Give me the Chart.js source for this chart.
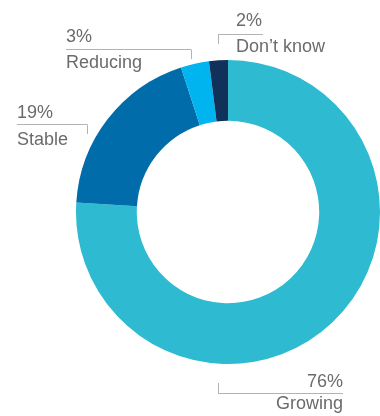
<!DOCTYPE html>
<html>
<head>
<meta charset="utf-8">
<script src="https://cdn.jsdelivr.net/npm/chart.js@4"></script>
<style>
  html, body { margin: 0; padding: 0; background: #fff; }
  #wrap { width: 380px; height: 416px; position: relative; }
</style>
</head>
<body>
<div id="wrap"><canvas id="outlook"></canvas></div>
<script>
const labels = ["Growing", "Stable", "Reducing", "Don\u2019t know"];
const shares = [76, 19, 3, 2];
const colours = ["#2ebad1", "#006ca9", "#00b4f0", "#10325a"];

// where each callout sits: text x, pct baseline, rule y, rule span, tick end
const callouts = [
    { x: 343, align: "right", pctY: 387, nameY: 409, ruleY: 393, x1: 218, x2: 343, tickX: 218, tickTo: 383 },
    { x: 17, align: "left", pctY: 118, nameY: 145, ruleY: 124, x1: 17, x2: 87, tickX: 87, tickTo: 134 },
    { x: 66, align: "left", pctY: 42, nameY: 68, ruleY: 49, x1: 66, x2: 191, tickX: 191, tickTo: 59 },
    { x: 236, align: "left", pctY: 26, nameY: 52, ruleY: 34, x1: 218, x2: 263, tickX: 218, tickTo: 44 },
];

const calloutPlugin = {
    id: "callouts",
    afterDraw(chart) {
        const ctx = chart.ctx;
        ctx.save();
        ctx.font = "18px 'Liberation Sans', Arial, sans-serif";
        ctx.fillStyle = "#6b6b6b";
        ctx.strokeStyle = "#b3b3b3";
        ctx.lineWidth = 1;
        callouts.forEach((c, i) => {
            ctx.textAlign = c.align;
            ctx.fillText(shares[i] + "%", c.x, c.pctY);
            ctx.fillText(labels[i], c.x, c.nameY);
            ctx.beginPath();
            ctx.moveTo(c.x1, c.ruleY + 0.5);
            ctx.lineTo(c.x2, c.ruleY + 0.5);
            ctx.moveTo(c.tickX + 0.5, c.ruleY + 0.5);
            ctx.lineTo(c.tickX + 0.5, c.tickTo);
            ctx.stroke();
        });
        ctx.restore();
    },
};

new Chart(document.getElementById("outlook"), {
    type: "doughnut",
    data: {
        labels: labels,
        datasets: [
            {
                data: shares,
                backgroundColor: colours,
                borderWidth: 0,
            },
        ],
    },
    options: {
        responsive: true,
        maintainAspectRatio: false,
        animation: false,
        cutout: "60%",
        layout: { padding: { left: 76, right: 0, top: 60, bottom: 52 } },
        plugins: {
            legend: { display: false },
            tooltip: { enabled: false },
        },
    },
    plugins: [calloutPlugin],
});
</script>
</body>
</html>
